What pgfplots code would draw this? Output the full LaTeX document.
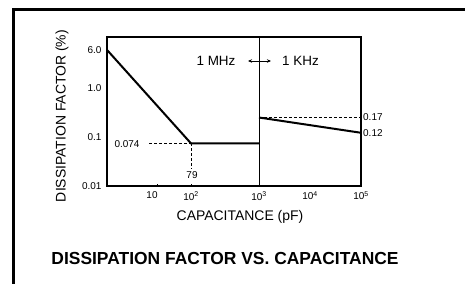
\documentclass[border=0pt]{standalone}
\usepackage{pgfplots}
\pgfplotsset{compat=1.18}
\usetikzlibrary{arrows.meta}
\usepackage{fontspec}
\setmainfont{Liberation Sans}
\begin{document}
\begin{tikzpicture}[x=1bp,y=1bp]
\useasboundingbox (0,0) rectangle (465,283);
% outer frame (left and top edges)
\draw[line width=2.4bp,line cap=rect] (13.5,-2) -- (13.5,273.5) -- (467,273.5);
\begin{axis}[
  at={(107bp,97bp)}, anchor=south west,
  scale only axis, width=254bp, height=149bp,
  xmin=0, xmax=254,
  ymode=log, ymin=0.01, ymax=11,
  axis line style={line width=1.2bp},
  xtick={45,84,152,203,254},
  xticklabels={10,10\textsuperscript{2},10\textsuperscript{3},10\textsuperscript{4},10\textsuperscript{5}},
  ytick={0.01,0.1,1,6},
  yticklabels={0.01,0.1,1.0,6.0},
  tick label style={font=\fontsize{10}{11}\selectfont},
  yticklabel style={xshift=-2bp},
  xticklabel style={yshift=-2bp},
  ytick style={draw=none},
  xtick style={draw=none},
  clip=false,
]
% 1 MHz region
\addplot[line width=2bp, no marks] coordinates {(0,6.0) (84,0.074) (152,0.074)};
% 1 KHz region
\addplot[line width=2bp, no marks] coordinates {(152,0.25) (254,0.122)};
% divider
\addplot[line width=0.9bp, no marks] coordinates {(152,0.01) (152,11)};
% dashed reference lines
\addplot[line width=0.8bp, dash pattern=on 3bp off 2bp, no marks] coordinates {(42,0.074) (84,0.074)};
\addplot[line width=0.8bp, dash pattern=on 3bp off 2bp, no marks] coordinates {(84,0.074) (84,0.022)};
\addplot[line width=0.8bp, dash pattern=on 3bp off 2bp, no marks] coordinates {(152,0.25) (254,0.25)};
\addplot[line width=0.8bp, no marks] coordinates {(84,0.01) (84,0.0112)};
\addplot[line width=0.8bp, no marks] coordinates {(50,0.01) (50,0.0112)};
\end{axis}
\node[font=\fontsize{10}{11}\selectfont] at (127,139) {0.074};
\node[font=\fontsize{10}{11}\selectfont] at (192,108) {79};
\node[font=\fontsize{10}{11}\selectfont, anchor=west, inner sep=0pt] at (363,165.5) {0.17};
\node[font=\fontsize{10}{11}\selectfont, anchor=west, inner sep=0pt] at (363,150.3) {0.12};
\node[font=\fontsize{13.5}{14}\selectfont] at (216,222) {1 MHz};
\node[font=\fontsize{13.5}{14}\selectfont] at (300.5,222) {1 KHz};
\draw[line width=0.7bp, {Stealth[length=4bp,width=3.5bp]}-{Stealth[length=4bp,width=3.5bp]}] (248,222) -- (271,222);
\node[font=\fontsize{14}{15}\selectfont, rotate=90] at (62,167) {DISSIPATION FACTOR (\%)};
\node[font=\fontsize{14}{15}\selectfont] at (240,66) {CAPACITANCE (pF)};
\node[font=\bfseries\fontsize{17.5}{19}\selectfont] at (225,25) {DISSIPATION FACTOR VS. CAPACITANCE};
\end{tikzpicture}
\end{document}
